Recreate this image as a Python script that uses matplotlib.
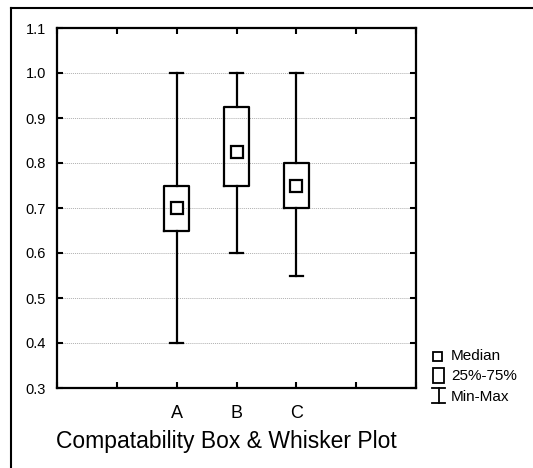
import matplotlib
matplotlib.use("Agg")
import matplotlib.pyplot as plt
from matplotlib.lines import Line2D
from matplotlib.patches import Rectangle

plt.rcParams['font.family'] = ['Liberation Sans', 'DejaVu Sans']

# Daten
groups = ['A', 'B', 'C']
mins = [0.40, 0.60, 0.55]
q1 = [0.65, 0.75, 0.70]
medians = [0.70, 0.825, 0.75]
q3 = [0.75, 0.925, 0.80]
maxs = [1.00, 1.00, 1.00]
positions = [2, 3, 4]
y_ticks = [0.3, 0.4, 0.5, 0.6, 0.7, 0.8, 0.9, 1.0, 1.1]

W, H = 533, 468
fig = plt.figure(figsize=(W / 100, H / 100), dpi=100)
ax = fig.add_axes([57 / W, 1 - 388 / H, (416 - 57) / W, (388 - 28) / H])

stats = []
for i, g in enumerate(groups):
    stats.append(dict(label=g, whislo=mins[i], q1=q1[i], med=medians[i],
                      q3=q3[i], whishi=maxs[i]))

lw = 1.6
ax.bxp(stats, positions=positions, widths=0.42, showfliers=False,
       boxprops=dict(color='black', linewidth=lw),
       whiskerprops=dict(color='black', linewidth=lw),
       capprops=dict(color='black', linewidth=lw),
       medianprops=dict(visible=False), capwidths=0.22, zorder=3)
ax.plot(positions, medians, linestyle='none', marker='s', markersize=8,
        markerfacecolor='white', markeredgecolor='black', markeredgewidth=1.6, zorder=4)

ax.set_xlim(0, 6)
ax.set_ylim(0.3, 1.1)
ax.set_yticks(y_ticks)
ax.set_yticklabels([f"{v:.1f}" for v in y_ticks], fontsize=10.5)
ax.set_xticks([0, 1, 2, 3, 4, 5, 6])
ax.set_xticklabels(['', '', 'A', 'B', 'C', '', ''], fontsize=13)
ax.tick_params(axis='both', direction='in', length=4, width=1.5,
               top=True, right=True)
ax.tick_params(axis='x', pad=12)
ax.tick_params(axis='y', pad=8)
for s in ax.spines.values():
    s.set_linewidth(1.6)
ax.grid(axis='y', color='#b0b0b0', linestyle=(0, (1, 1)), linewidth=0.7)
ax.set_axisbelow(True)

fig.text(226 / W, 1 - 448 / H, 'Compatability Box & Whisker Plot', fontsize=16.5,
         ha='center', va='baseline')

# Rahmen (links und oben)
fig.add_artist(Line2D([11 / W, 11 / W], [0, 1 - 8 / H], color='black', linewidth=1.5,
                      transform=fig.transFigure))
fig.add_artist(Line2D([11 / W, 1], [1 - 8 / H, 1 - 8 / H], color='black', linewidth=1.5,
                      transform=fig.transFigure))

# Legende
def fx(px):
    return px / W

def fy(py):
    return 1 - py / H

fig.add_artist(Rectangle((fx(433), fy(361)), 9 / W, 9 / H, fill=False, edgecolor='black',
                         linewidth=1.3, transform=fig.transFigure))
fig.add_artist(Rectangle((fx(433), fy(383)), 11 / W, 15 / H, fill=False, edgecolor='black',
                         linewidth=1.3, transform=fig.transFigure))
fig.add_artist(Line2D([fx(438.5), fx(438.5)], [fy(388), fy(403)], color='black', linewidth=1.3,
                      transform=fig.transFigure))
fig.add_artist(Line2D([fx(432), fx(445)], [fy(388), fy(388)], color='black', linewidth=1.3,
                      transform=fig.transFigure))
fig.add_artist(Line2D([fx(432), fx(445)], [fy(403), fy(403)], color='black', linewidth=1.3,
                      transform=fig.transFigure))
for lab, py in [('Median', 356), ('25%-75%', 376), ('Min-Max', 397)]:
    fig.text(fx(451), fy(py), lab, fontsize=11, ha='left', va='center')

fig.savefig('out.png', dpi=100)
